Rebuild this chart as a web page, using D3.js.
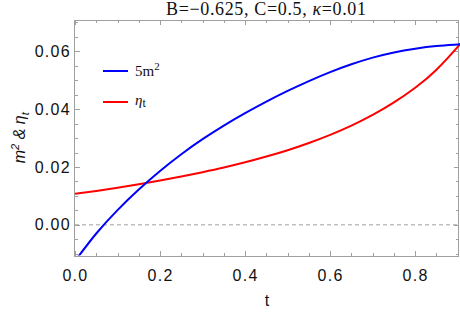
<!DOCTYPE html>
<html lang="en">
<head>
    <meta charset="UTF-8">
    <title>m2 and eta_t</title>
    <script src="https://cdn.jsdelivr.net/npm/d3@7/dist/d3.min.js"></script>
</head>
<body>
<style>
    body {
        margin: 0;
        background-color: white;
    }
    svg {
        display: block;
    }
    .frame path,
    .frame line {
        fill: none;
        stroke: #a0a0a0;
        shape-rendering: crispEdges;
    }
    .frame text {
        font-family: "Liberation Sans", Arial, sans-serif;
        font-size: 16px;
        letter-spacing: 1.3px;
        fill: #111;
    }
    .serif {
        font-family: "Liberation Serif", "Times New Roman", serif;
    }
</style>

<svg width="460" height="315"></svg>

<script>
    // t values and curves
    var tValues = [0, 0.05, 0.1, 0.15, 0.2, 0.25, 0.3, 0.35, 0.4, 0.45, 0.5,
        0.55, 0.6, 0.65, 0.7, 0.75, 0.8, 0.85, 0.9, 0.903];
    var blueValues = [-0.0125, -0.0030, 0.0051, 0.0122, 0.0186, 0.0244, 0.0296, 0.0343, 0.0386, 0.0426, 0.0463,
        0.0497, 0.0528, 0.0555, 0.0578, 0.0596, 0.0609, 0.0618, 0.0623, 0.0624];
    var redValues = [0.0107, 0.0117, 0.0128, 0.0140, 0.0153, 0.0167, 0.0182, 0.0198, 0.0216, 0.0236, 0.0258,
        0.0283, 0.0311, 0.0343, 0.0380, 0.0423, 0.0474, 0.0536, 0.0615, 0.0621];
    var xTicks = [0, 0.2, 0.4, 0.6, 0.8];
    var yTicks = [0, 0.02, 0.04, 0.06];

    var svg = d3.select("svg");
    var pLeft = 75, pRight = 459, pTop = 20, pBottom = 255.5;

    var getX = d3.scaleLinear()
            .domain([0, 0.903])
            .range([pLeft, pRight]);
    var getY = d3.scaleLinear()
            .domain([-0.0106, 0.0708])
            .range([pBottom, pTop]);

    var xMinor = d3.range(0, 0.9001, 0.05);
    var yMinor = d3.range(-0.01, 0.0701, 0.005);

    // minor ticks on every side
    function minorTicks(axis, values) {
        return axis.tickValues(values).tickSize(3).tickFormat("");
    }
    svg.append("g").attr("class", "frame")
            .attr("transform", "translate(0," + pBottom + ")")
            .call(minorTicks(d3.axisTop(getX), xMinor));
    svg.append("g").attr("class", "frame")
            .attr("transform", "translate(0," + pTop + ")")
            .call(minorTicks(d3.axisBottom(getX), xMinor));
    svg.append("g").attr("class", "frame")
            .attr("transform", "translate(" + pLeft + ",0)")
            .call(minorTicks(d3.axisRight(getY), yMinor));
    svg.append("g").attr("class", "frame")
            .attr("transform", "translate(" + pRight + ",0)")
            .call(minorTicks(d3.axisLeft(getY), yMinor));

    // major ticks, labels only bottom and left
    var axisB = d3.axisBottom(getX).tickValues(xTicks).tickSizeInner(-5).tickSizeOuter(0)
            .tickPadding(14).tickFormat(d3.format(".1f"));
    var axisL = d3.axisLeft(getY).tickValues(yTicks).tickSizeInner(-5).tickSizeOuter(0)
            .tickPadding(4).tickFormat(d3.format(".2f"));
    svg.append("g").attr("class", "frame")
            .attr("transform", "translate(0," + pBottom + ")")
            .call(axisB);
    svg.append("g").attr("class", "frame")
            .attr("transform", "translate(" + pLeft + ",0)")
            .call(axisL);
    svg.append("g").attr("class", "frame")
            .attr("transform", "translate(0," + pTop + ")")
            .call(d3.axisTop(getX).tickValues(xTicks).tickSizeInner(-5).tickSizeOuter(0).tickFormat(""));
    svg.append("g").attr("class", "frame")
            .attr("transform", "translate(" + pRight + ",0)")
            .call(d3.axisRight(getY).tickValues(yTicks).tickSizeInner(-5).tickSizeOuter(0).tickFormat(""));

    svg.selectAll(".frame .domain").remove();
    svg.append("rect")
            .attr("x", pLeft - 0.5).attr("y", pTop + 0.5)
            .attr("width", pRight - pLeft).attr("height", pBottom - pTop)
            .attr("fill", "none").attr("stroke", "#a0a0a0")
            .attr("shape-rendering", "crispEdges");

    // zero line
    svg.append("line")
            .attr("x1", pLeft).attr("x2", pRight)
            .attr("y1", getY(0)).attr("y2", getY(0))
            .attr("stroke", "#a0a0a0").attr("stroke-dasharray", "4,3");

    svg.append("clipPath").attr("id", "clip")
            .append("rect")
            .attr("x", pLeft).attr("y", pTop)
            .attr("width", pRight - pLeft + 1).attr("height", pBottom - pTop);

    var line = d3.line()
            .x(function (d) { return getX(d[0]); })
            .y(function (d) { return getY(d[1]); })
            .curve(d3.curveNatural);

    var blue = tValues.map(function (t, i) { return [t, blueValues[i]]; });
    var red = tValues.map(function (t, i) { return [t, redValues[i]]; });

    svg.append("path").datum(red)
            .attr("clip-path", "url(#clip)")
            .attr("d", line)
            .attr("fill", "none").attr("stroke", "#ff0000").attr("stroke-width", 2);
    svg.append("path").datum(blue)
            .attr("clip-path", "url(#clip)")
            .attr("d", line)
            .attr("fill", "none").attr("stroke", "#0000ff").attr("stroke-width", 2);

    // legend
    svg.append("line").attr("x1", 103).attr("x2", 128).attr("y1", 71).attr("y2", 71)
            .attr("stroke", "#0000ff").attr("stroke-width", 2);
    var l1 = svg.append("text").attr("class", "serif").attr("x", 135).attr("y", 75.5)
            .attr("font-size", 15).attr("fill", "#111");
    l1.append("tspan").text("5m");
    l1.append("tspan").attr("dy", -6).attr("font-size", 11).text("2");

    svg.append("line").attr("x1", 103).attr("x2", 128).attr("y1", 102).attr("y2", 102)
            .attr("stroke", "#ff0000").attr("stroke-width", 2);
    var l2 = svg.append("text").attr("class", "serif").attr("x", 135).attr("y", 105)
            .attr("font-size", 15).attr("fill", "#111");
    l2.append("tspan").attr("font-style", "italic").text("η");
    l2.append("tspan").attr("dy", 2).attr("font-size", 12).text("t");

    // title
    var title = svg.append("text").attr("class", "serif")
            .attr("x", 166).attr("y", 15)
            .attr("textLength", 200).attr("lengthAdjust", "spacing")
            .attr("font-size", 18).attr("fill", "#111");
    title.append("tspan").text("B=\u22120.625, C=0.5, ");
    title.append("tspan").attr("font-style", "italic").text("\u03ba");
    title.append("tspan").text("=0.01");

    // axis labels
    svg.append("text")
            .attr("x", (pLeft + pRight) / 2).attr("y", 306)
            .attr("text-anchor", "middle")
            .style("font-family", "'Liberation Sans', Arial, sans-serif")
            .style("font-size", "16px").attr("fill", "#111")
            .text("t");

    var yl = svg.append("text")
            .attr("transform", "translate(25," + ((pTop + pBottom) / 2) + ") rotate(-90)")
            .attr("text-anchor", "middle")
            .style("font-family", "'Liberation Sans', Arial, sans-serif")
            .style("font-size", "16px").style("font-style", "italic").attr("fill", "#111");
    yl.append("tspan").text("m");
    yl.append("tspan").attr("dy", -6).attr("font-size", 11).text("2");
    yl.append("tspan").attr("dy", 6).text(" & \u03b7");
    yl.append("tspan").attr("dy", 4).attr("font-size", 11).text("t");
</script>
</body>
</html>
